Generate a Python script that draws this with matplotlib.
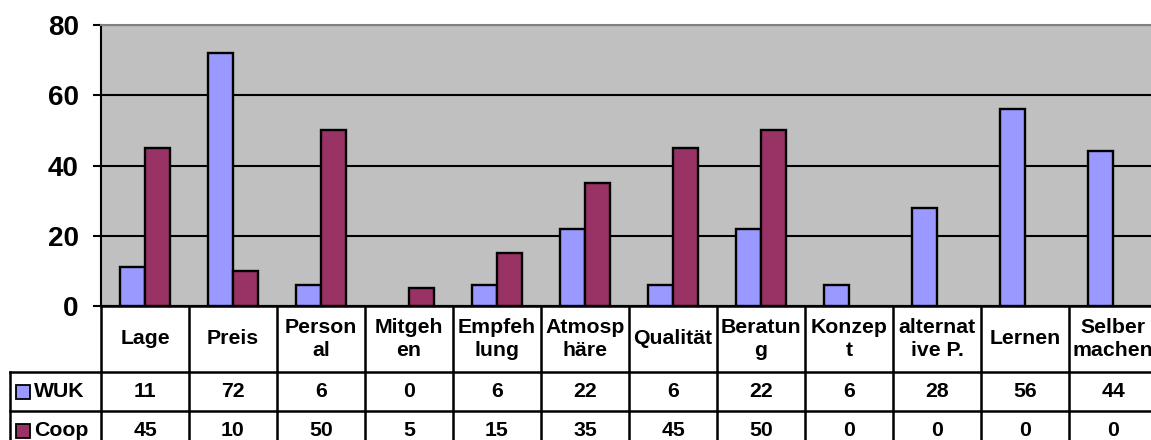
import numpy as np
import matplotlib
matplotlib.use("Agg")
import matplotlib.pyplot as plt
from matplotlib.patches import Rectangle

plt.rcParams['font.family'] = ['Liberation Sans', 'DejaVu Sans']
plt.rcParams['font.weight'] = 'bold'

# data
categories = ["Lage", "Preis", "Person\nal", "Mitgeh\nen", "Empfeh\nlung",
              "Atmosp\nhäre", "Qualität", "Beratun\ng", "Konzep\nt",
              "alternat\nive P.", "Lernen", "Selber\nmachen"]
wuk = [11, 72, 6, 0, 6, 22, 6, 22, 6, 28, 56, 44]
coop = [45, 10, 50, 5, 15, 35, 45, 50, 0, 0, 0, 0]
series_names = ["WUK", "Coop"]
colors = ["#9999FF", "#993366"]

W, H = 1151, 440
fig = plt.figure(figsize=(W / 100, H / 100), dpi=100)

# plot area in pixel terms
left, right, top, zero_y = 101, 1157, 25, 306
ax = fig.add_axes([left / W, (H - zero_y) / H, (right - left) / W, (zero_y - top) / H])
ax.set_facecolor("#C0C0C0")

x = np.arange(len(categories))
w = 0.285
b1 = ax.bar(x - w / 2, wuk, w, color=colors[0], edgecolor="black", linewidth=1.7, zorder=3)
b2 = ax.bar(x + w / 2, coop, w, color=colors[1], edgecolor="black", linewidth=1.7, zorder=3)
# zero values show no bar at all
for p in list(b1) + list(b2):
    if p.get_height() == 0:
        p.set_visible(False)

ax.set_xlim(-0.5, len(categories) - 0.5)
ax.set_ylim(0, 80)
ax.set_yticks([0, 20, 40, 60, 80])
ax.set_xticks([])
ax.yaxis.grid(True, color="black", linewidth=1.5, zorder=1)
ax.set_axisbelow(True)
ax.tick_params(axis="y", direction="out", length=6, width=1.5, pad=10, labelsize=20)
for lab in ax.get_yticklabels():
    lab.set_fontweight("bold")
ax.spines["right"].set_visible(False)
ax.spines["top"].set_color("#808080")
ax.spines["top"].set_linewidth(1.5)
ax.spines["left"].set_linewidth(1.5)
ax.spines["bottom"].set_linewidth(1.5)

# data table under the chart
tbl_bottom = 450
tax = fig.add_axes([left / W, (H - tbl_bottom) / H, (right - left) / W, (tbl_bottom - zero_y) / H])
tax.set_xlim(-0.5, len(categories) - 0.5)
tax.set_ylim(tbl_bottom - zero_y, 0)
tax.axis("off")

hdr_h, row_h = 66, 39
leg_left = -0.5 - (left - 10) / 88.0
lw = 1.8
kw = dict(color="black", linewidth=lw, clip_on=False, solid_capstyle="projecting")

# horizontal lines
tax.plot([-0.5, len(categories) - 0.5], [0, 0], **kw)
for yy in [hdr_h, hdr_h + row_h, hdr_h + 2 * row_h]:
    tax.plot([leg_left, len(categories) - 0.5], [yy, yy], **kw)
# vertical lines
for xx in np.arange(len(categories)) - 0.5:
    tax.plot([xx, xx], [0, hdr_h + 2 * row_h], **kw)
tax.plot([leg_left, leg_left], [hdr_h, hdr_h + 2 * row_h], **kw)

fs = 15.3
for i, c in enumerate(categories):
    tax.text(i, hdr_h / 2, c, ha="center", va="center", fontsize=fs,
             fontweight="bold", linespacing=1.25, clip_on=False)
for r, (vals, name, col) in enumerate(zip([wuk, coop], series_names, colors)):
    yc = hdr_h + row_h * r + row_h / 2
    for i, v in enumerate(vals):
        tax.text(i, yc, str(v), ha="center", va="center", fontsize=fs,
                 fontweight="bold", clip_on=False)
    sq = 14 / 88.0
    tax.add_patch(Rectangle((leg_left + 6 / 88.0, yc - 7), sq, 14, facecolor=col,
                            edgecolor="black", linewidth=1.3, clip_on=False))
    tax.text(leg_left + 24 / 88.0, yc, name, ha="left", va="center", fontsize=fs,
             fontweight="bold", clip_on=False)

fig.savefig("out.png", dpi=100)
